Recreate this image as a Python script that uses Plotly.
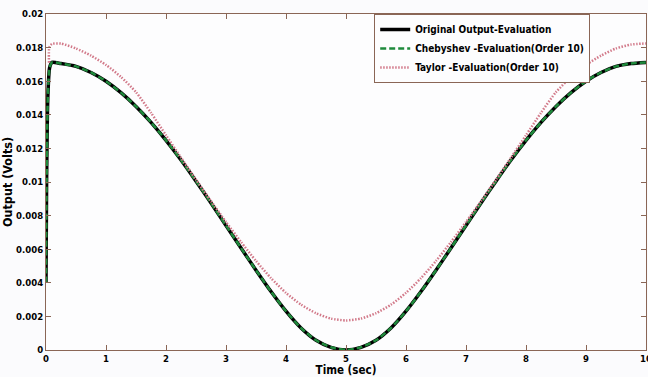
import plotly.graph_objects as go

# ---- data ----
t_orig = [0, 0.01, 0.03, 0.06, 0.1, 0.25, 0.5, 0.75, 1.0, 1.25, 1.5, 1.75, 2.0, 2.25, 2.5, 2.75,
          3.0, 3.25, 3.5, 3.75, 4.0, 4.25, 4.5, 4.75, 5.0, 5.25, 5.5, 5.75, 6.0, 6.25, 6.5,
          6.75, 7.0, 7.25, 7.5, 7.75, 8.0, 8.25, 8.5, 8.75, 9.0, 9.25, 9.5, 9.75, 10.0]
original = [0.0040, 0.0100, 0.0150, 0.0168, 0.01712, 0.01705, 0.01688, 0.01652, 0.01600, 0.01532,
            0.01450, 0.01355, 0.01248, 0.01131, 0.01005, 0.00875, 0.00741, 0.00607, 0.00475,
            0.00348, 0.00231, 0.00131, 0.00058, 0.00016, 0.0, 0.00016, 0.00058, 0.00131,
            0.00231, 0.00348, 0.00475, 0.00607, 0.00741, 0.00875, 0.01005, 0.01131, 0.01248,
            0.01355, 0.01450, 0.01532, 0.01600, 0.01652, 0.01688, 0.01705, 0.01712]
chebyshev = list(original)

t_taylor = [0.05, 0.055, 0.1, 0.25, 0.5, 0.75, 1.0, 1.25, 1.5, 1.75, 2.0, 2.25, 2.5, 2.75, 3.0,
            3.25, 3.5, 3.75, 4.0, 4.25, 4.5, 4.75, 5.0, 5.25, 5.5, 5.75, 6.0, 6.25, 6.5, 6.75,
            7.0, 7.25, 7.5, 7.75, 8.0, 8.25, 8.5, 8.75, 9.0, 9.25, 9.5, 9.75, 10.0]
taylor = [0.0171, 0.0180, 0.01822, 0.01824, 0.01795, 0.01752, 0.01697, 0.01625, 0.01535, 0.01412,
          0.01278, 0.01145, 0.01014, 0.00886, 0.00762, 0.00643, 0.00530, 0.00428, 0.00340,
          0.00270, 0.00219, 0.00187, 0.00176, 0.00187, 0.00219, 0.00270, 0.00340, 0.00428,
          0.00530, 0.00643, 0.00762, 0.00886, 0.01014, 0.01145, 0.01278, 0.01412, 0.01535,
          0.01625, 0.01697, 0.01752, 0.01795, 0.01818, 0.01825]

x_ticks = list(range(0, 11))
y_ticks = [0, 0.002, 0.004, 0.006, 0.008, 0.01, 0.012, 0.014, 0.016, 0.018, 0.02]
y_labels = ["0", "0.002", "0.004", "0.006", "0.008", "0.01", "0.012", "0.014", "0.016", "0.018", "0.02"]

axis_col = "#8a6656"
font = "Liberation Sans Narrow, DejaVu Sans Condensed, Liberation Sans, Arial, sans-serif"

fig = go.Figure()
fig.add_trace(go.Scatter(x=t_orig, y=original, mode="lines", name="<b>Original Output-Evaluation</b>",
                         line=dict(color="black", width=3.5, shape="spline", smoothing=0.6)))
fig.add_trace(go.Scatter(x=t_orig, y=chebyshev, mode="lines", name="<b>Chebyshev -Evaluation(Order 10)</b>",
                         line=dict(color="#1f8a3c", width=2.5, dash="6px,3px", shape="spline", smoothing=0.6)))
fig.add_trace(go.Scatter(x=t_taylor, y=taylor, mode="lines", name="<b>Taylor -Evaluation(Order 10)</b>",
                         line=dict(color="#d27a8a", width=2.5, dash="1.5px,1.5px", shape="spline", smoothing=0.6)))

fig.update_layout(
    width=648, height=377,
    margin=dict(l=46, r=2, t=14, b=27),
    paper_bgcolor="#fbfbfd", plot_bgcolor="#fdfdfe",
    font=dict(family=font, size=10, color="black"),
    showlegend=True,
    legend=dict(x=0.547, y=1.0, xanchor="left", yanchor="top",
                bgcolor="#fdfdfe", bordercolor=axis_col, borderwidth=1,
                font=dict(size=10, family=font, color="black"),
                itemwidth=30, tracegroupgap=0),
    xaxis=dict(range=[0, 10], tickvals=x_ticks, ticktext=[f"<b>{v}</b>" for v in x_ticks],
               ticks="inside", ticklen=5, tickcolor=axis_col, showgrid=False, zeroline=False,
               showline=True, linecolor=axis_col, linewidth=1, mirror="ticks",
               ticklabeloverflow="allow", automargin=False,
               title=dict(text="<b>Time (sec)</b>", font=dict(size=11.5), standoff=1),
               tickfont=dict(size=9.5)),
    yaxis=dict(range=[0, 0.02], tickvals=y_ticks, ticktext=[f"<b>{s}</b>" for s in y_labels],
               ticks="inside", ticklen=5, tickcolor=axis_col, showgrid=False, zeroline=False,
               showline=True, linecolor=axis_col, linewidth=1, mirror="ticks",
               automargin=False,
               title=dict(text="<b>Output (Volts)</b>", font=dict(size=12.5), standoff=2),
               tickfont=dict(size=9.5)),
)

fig.write_html("out.html")
